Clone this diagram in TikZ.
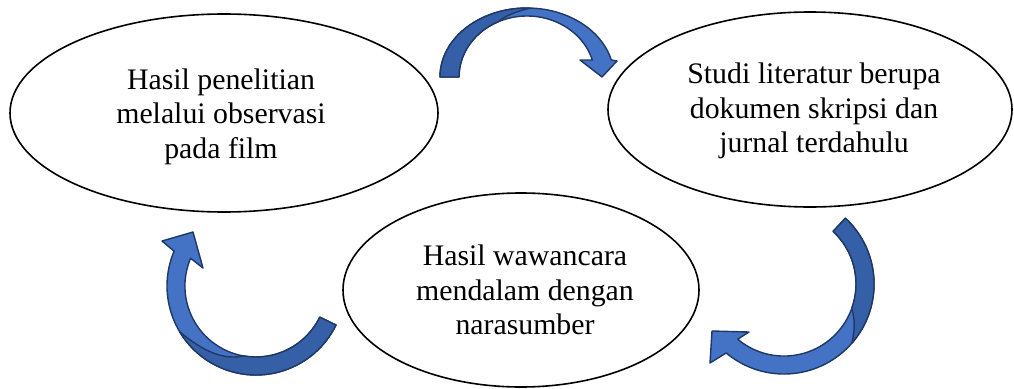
\documentclass[tikz,border=0pt]{standalone}
\usepackage{fontspec}
\setmainfont{Liberation Serif}
\usetikzlibrary{shapes.geometric}
\definecolor{arrlight}{HTML}{4472C4}
\definecolor{arrdark}{HTML}{3560A8}
\definecolor{arredge}{HTML}{1F3864}
\begin{document}
\begin{tikzpicture}[x=1pt,y=-1pt,
  oval/.style={ellipse, draw=black, line width=1.6pt, fill=white, inner sep=0pt},
  txt/.style={align=center, inner sep=0pt, font=\fontsize{29.8}{34.5}\selectfont},
  arrbody/.style={fill=arrlight, draw=arredge, line width=1.4pt, line join=round},
  arrback/.style={fill=arrdark, draw=arredge, line width=1.4pt, line join=round}]
\useasboundingbox (0,0) rectangle (1014,388);
% ellipses
\node[oval, minimum width=428pt, minimum height=198pt] (e1) at (224,113) {};
\node[oval, minimum width=404pt, minimum height=195pt] (e2) at (810,109.5) {};
\node[oval, minimum width=356pt, minimum height=194pt] (e3) at (521,290) {};
% texts
\node[txt] (t1) at ([shift={(-3,3.5)}]e1.center) {Hasil penelitian\\melalui observasi\\pada film};
\node[txt] (t2) at ([shift={(4,1.5)}]e2.center) {Studi literatur berupa\\dokumen skripsi dan\\jurnal terdahulu};
\node[txt] (t3) at ([shift={(4,0)}]e3.center) {Hasil wawancara\\mendalam dengan\\narasumber};
% top curved arrow
\path[arrbody] (440,77) arc[start angle=180, end angle=345.7, x radius=87, y radius=69]
  -- (617,61) -- (602,77) -- (580,60) -- (592.3,60)
  arc[start angle=343.8, end angle=180, x radius=68, y radius=61] -- cycle;
\path[arrback] (440,77) arc[start angle=180, end angle=272, x radius=87, y radius=69]
  .. controls (515,12) and (505,16) .. (498.3,21.7)
  arc[start angle=245, end angle=180, x radius=68, y radius=61] -- cycle;
% right curved arrow (centre 784,284)
\path[arrbody] (845.4,218.2) arc[start angle=-47, end angle=130, radius=90]
  -- (710,363) -- (712,331) -- (749,332) -- (737.7,339.2)
  arc[start angle=130, end angle=-47, radius=72] -- cycle;
\path[arrback] (845.4,218.2) arc[start angle=-47, end angle=41, radius=90]
  .. controls (855,330) and (855,318) .. (851.7,308.6)
  arc[start angle=20, end angle=-47, radius=72] -- cycle;
% left curved arrow (centre 256,286)
\path[arrbody] (336,325) arc[start angle=26, end angle=203, radius=89]
  -- (162,241) -- (193,232) -- (203,268) -- (190.6,258.3)
  arc[start angle=203, end angle=26, radius=71] -- cycle;
\path[arrback] (336,325) arc[start angle=26, end angle=149, radius=89]
  .. controls (205,353) and (225,360) .. (243.7,355.9)
  arc[start angle=100, end angle=26, radius=71] -- cycle;
\end{tikzpicture}
\end{document}
